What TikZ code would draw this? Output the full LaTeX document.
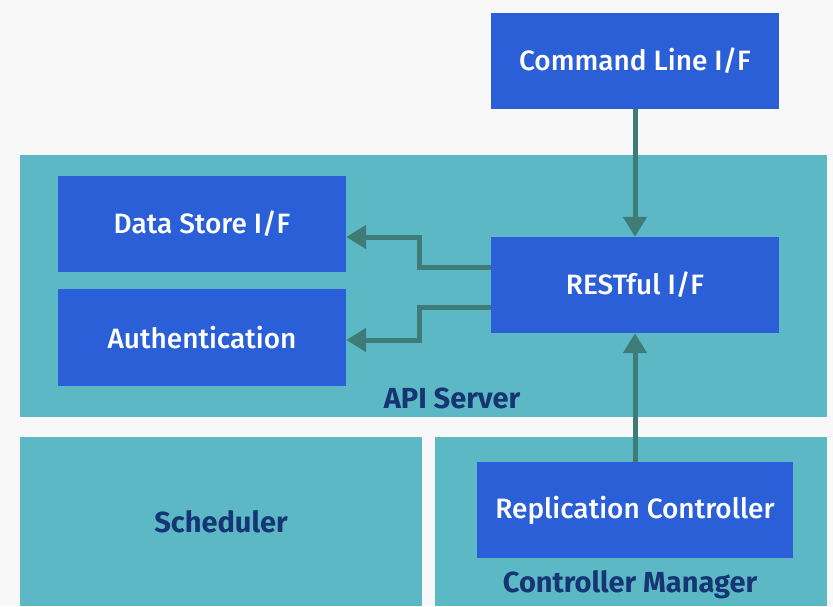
\documentclass[tikz,border=0pt]{standalone}
\usepackage{fontspec}
\setmainfont{Fira Sans}
\newfontfamily\medf{Fira Sans Medium}
\usetikzlibrary{arrows.meta}
\definecolor{bgc}{HTML}{F8F8F8}
\definecolor{teal1}{HTML}{5CB8C4}
\definecolor{blue1}{HTML}{2B5FD8}
\definecolor{arrc}{HTML}{3F7C77}
\definecolor{navy}{HTML}{153574}
\tikzset{
  blk/.style={fill=blue1, draw=none, inner sep=0pt, text=white, font=\fontsize{28}{32}\selectfont\medf, minimum width=288pt, minimum height=96pt},
  cont/.style={fill=teal1, draw=none, inner sep=0pt},
  lab/.style={text=navy, font=\fontsize{29}{32}\selectfont\bfseries, inner sep=0pt},
  arr/.style={draw=arrc, line width=5pt, -{Triangle[width=23pt,length=20pt]}}
}
\begin{document}
\begin{tikzpicture}[x=1pt,y=-1pt]
\useasboundingbox (0,0) rectangle (833,606);
\fill[bgc] (0,0) rectangle (833,606);
% containers
\node[cont, minimum width=807pt, minimum height=262pt] (api) at (423.5,286) {};
\node[cont, minimum width=402pt, minimum height=169pt] (sch) at (221,521.5) {};
\node[cont, minimum width=392pt, minimum height=169pt] (cm) at (631,521.5) {};
% boxes
\node[blk] (cmd) at (635,61) {Command Line I/F};
\node[blk] (rest) at (635,285) {RESTful I/F};
\node[blk] (ds) at (202,224) {Data Store I/F};
\node[blk, minimum height=97pt] (auth) at (202,337.5) {Authentication};
\node[blk, minimum width=316pt] (rep) at (635,510) {Replication Controller};
% labels
\node[lab] (apilab) at (452,398) {API Server};
\node[lab] (schlab) at (221,522) {Scheduler};
\node[lab] (cmlab) at (630,585) {Controller Manager};
% connectors
\coordinate (j1) at (419,237);
\coordinate (j2) at (419,340);
\draw[arr] (cmd.south) -- (rest.north);
\draw[arr] (rep.north) -- (rest.south);
\draw[arr] ([yshift=18pt]rest.west) -| (j1) -- (ds.east |- j1);
\draw[arr] ([yshift=-22pt]rest.west) -| (j2) -- (auth.east |- j2);
\end{tikzpicture}
\end{document}
